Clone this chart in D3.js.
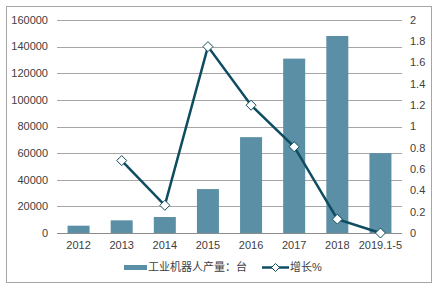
<!DOCTYPE html>
<html lang="zh">
<head>
<meta charset="UTF-8">
<title>工业机器人产量</title>
<script src="https://d3js.org/d3.v7.min.js"></script>
<style>
  body { margin: 0; background: #fff; }
  text { font-family: "Liberation Sans", "Noto Sans CJK SC", Arial, sans-serif; fill: #404040; }
</style>
</head>
<body>
<svg width="439" height="290"></svg>
<script>
  // data
  const years = ["2012", "2013", "2014", "2015", "2016", "2017", "2018", "2019.1-5"];
  const output = [5500, 9500, 12000, 33000, 72000, 131000, 148000, 60000];
  const growth = [null, 0.68, 0.26, 1.75, 1.2, 0.81, 0.13, 0];
  const leftTicks = [0, 20000, 40000, 60000, 80000, 100000, 120000, 140000, 160000];
  const rightTicks = [0, 0.2, 0.4, 0.6, 0.8, 1, 1.2, 1.4, 1.6, 1.8, 2];

  const svg = d3.select("svg");
  const plotLeft = 57, plotRight = 402, plotTop = 20, plotBottom = 233;

  // outer frame
  svg.append("rect")
    .attr("x", 6.5).attr("y", 6.5)
    .attr("width", 425).attr("height", 276)
    .attr("fill", "none")
    .attr("stroke", "#a6a6a6");

  const xc = d3.scaleBand().domain(years).range([plotLeft, plotRight]);
  const y = d3.scaleLinear().domain([0, 160000]).range([plotBottom, plotTop]);
  const y2 = d3.scaleLinear().domain([0, 2]).range([plotBottom, plotTop]);
  const cx = d => xc(d) + xc.bandwidth() / 2;

  // grid
  svg.append("g").selectAll("line")
    .data(leftTicks)
    .join("line")
    .attr("x1", plotLeft).attr("x2", plotRight)
    .attr("y1", d => Math.round(y(d)) + 0.5)
    .attr("y2", d => Math.round(y(d)) + 0.5)
    .attr("stroke", "#a6a6a6");

  // bars
  svg.append("g").selectAll("rect")
    .data(output)
    .join("rect")
    .attr("x", (d, i) => cx(years[i]) - 11)
    .attr("width", 22)
    .attr("y", d => y(d))
    .attr("height", d => plotBottom - y(d))
    .attr("fill", "#5b8fa5");

  // baseline
  svg.append("line")
    .attr("x1", plotLeft).attr("x2", plotRight)
    .attr("y1", plotBottom + 0.5).attr("y2", plotBottom + 0.5)
    .attr("stroke", "#8c8c8c");

  // left axis labels
  svg.append("g").selectAll("text")
    .data(leftTicks)
    .join("text")
    .attr("x", 48)
    .attr("y", d => y(d))
    .attr("dy", "0.35em")
    .attr("text-anchor", "end")
    .attr("font-size", 11)
    .text(d => d);

  // right axis labels
  svg.append("g").selectAll("text")
    .data(rightTicks)
    .join("text")
    .attr("x", 410)
    .attr("y", d => y2(d))
    .attr("dy", "0.35em")
    .attr("font-size", 11)
    .text(d => d);

  // x labels
  svg.append("g").selectAll("text")
    .data(years)
    .join("text")
    .attr("x", d => cx(d))
    .attr("y", 245)
    .attr("dy", "0.35em")
    .attr("text-anchor", "middle")
    .attr("font-size", 11)
    .text(d => d);

  // growth line
  const pts = growth.map((g, i) => ({ year: years[i], g })).filter(d => d.g !== null);
  const line = d3.line()
    .x(d => cx(d.year))
    .y(d => y2(d.g));
  svg.append("path")
    .datum(pts)
    .attr("d", line)
    .attr("fill", "none")
    .attr("stroke", "#0e4d61")
    .attr("stroke-width", 2.5);

  svg.append("g").selectAll("path")
    .data(pts)
    .join("path")
    .attr("transform", d => `translate(${cx(d.year)},${y2(d.g)})`)
    .attr("d", "M0,-5L5,0L0,5L-5,0Z")
    .attr("fill", "#fff")
    .attr("stroke", "#0e4d61")
    .attr("stroke-width", 1);

  // legend
  const lg = svg.append("g");
  lg.append("rect")
    .attr("x", 124).attr("y", 265)
    .attr("width", 23).attr("height", 5)
    .attr("fill", "#5b8fa5");
  lg.append("text")
    .attr("x", 148).attr("y", 267)
    .attr("dy", "0.35em")
    .attr("font-size", 11)
    .text("工业机器人产量：台");
  lg.append("line")
    .attr("x1", 262).attr("x2", 289)
    .attr("y1", 267.5).attr("y2", 267.5)
    .attr("stroke", "#0e4d61")
    .attr("stroke-width", 2.5);
  lg.append("path")
    .attr("transform", "translate(275.5,267.5)")
    .attr("d", "M0,-4L4,0L0,4L-4,0Z")
    .attr("fill", "#fff")
    .attr("stroke", "#0e4d61");
  lg.append("text")
    .attr("x", 290).attr("y", 267)
    .attr("dy", "0.35em")
    .attr("font-size", 11)
    .text("增长%");
</script>
</body>
</html>
